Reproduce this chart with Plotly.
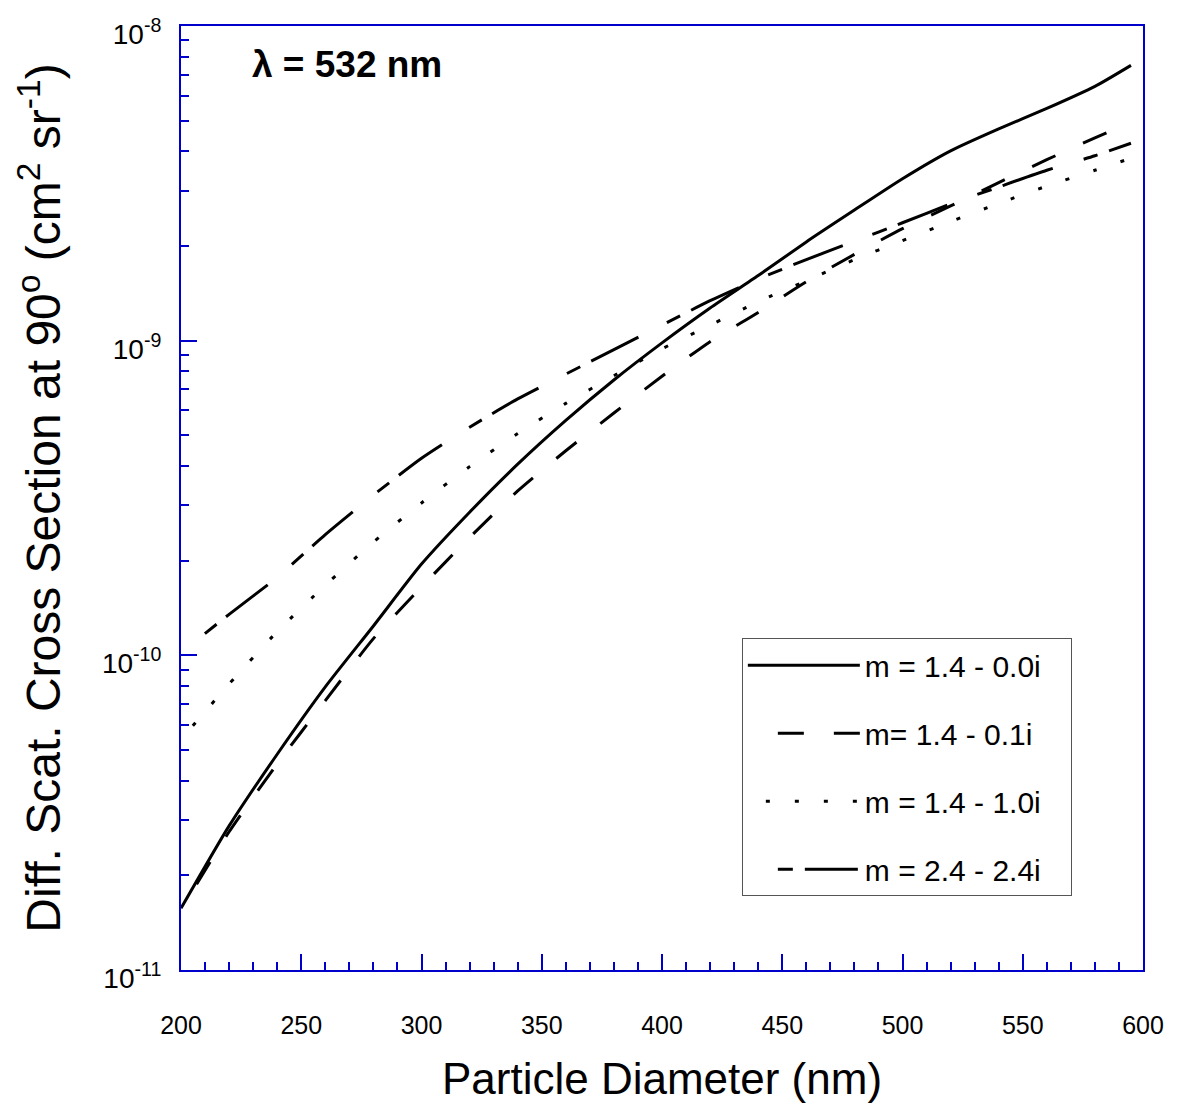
import plotly.graph_objects as go

# particle diameter (nm)
diameter = [200, 220, 240, 260, 280, 300, 320, 340, 360, 380, 400,
            420, 440, 460, 480, 500, 520, 540, 560, 580, 595]

# differential scattering cross section at 90 deg (cm^2 sr^-1)
m14_00i = [1.57e-11, 2.87e-11, 4.85e-11, 7.94e-11, 1.24e-10, 1.95e-10, 2.85e-10,
           4.05e-10, 5.58e-10, 7.50e-10, 9.84e-10, 1.27e-9, 1.61e-9, 2.06e-9,
           2.60e-9, 3.27e-9, 4.01e-9, 4.71e-9, 5.47e-9, 6.43e-9, 7.50e-9]
m14_01i = [1.55e-11, 2.75e-11, 4.52e-11, 7.18e-11, 1.13e-10, 1.65e-10, 2.37e-10,
           3.33e-10, 4.47e-10, 5.89e-10, 7.71e-10, 9.93e-10, 1.23e-9, 1.54e-9,
           1.88e-9, 2.27e-9, 2.68e-9, 3.18e-9, 3.76e-9, 4.41e-9, 4.95e-9]
m14_10i = [5.40e-11, 8.11e-11, 1.19e-10, 1.67e-10, 2.29e-10, 3.05e-10, 3.98e-10,
           5.07e-10, 6.32e-10, 7.74e-10, 9.42e-10, 1.12e-9, 1.33e-9, 1.55e-9,
           1.81e-9, 2.08e-9, 2.39e-9, 2.73e-9, 3.10e-9, 3.48e-9, 3.80e-9]
m24_24i = [1.02e-10, 1.35e-10, 1.77e-10, 2.42e-10, 3.23e-10, 4.23e-10, 5.31e-10,
           6.53e-10, 7.83e-10, 9.37e-10, 1.12e-9, 1.34e-9, 1.57e-9, 1.81e-9,
           2.07e-9, 2.37e-9, 2.72e-9, 3.08e-9, 3.48e-9, 3.87e-9, 4.24e-9]

series_names = ["m = 1.4 - 0.0i", "m= 1.4 - 0.1i", "m = 1.4 - 1.0i", "m = 2.4 - 2.4i"]
series_vals = [m14_00i, m14_01i, m14_10i, m24_24i]
# patterns start with a gap so the legend samples end next to the text
series_dash = ["solid", "0px,30px,26px,0px", "0px,18px,4px,7px", "0px,30px,15px,12px,53px,2px"]

y_tickvals = [1e-11, 1e-10, 1e-9, 1e-8]
y_ticktext = ["10<sup>-11</sup>", "10<sup>-10</sup>", "10<sup>-9</sup>", "10<sup>-8</sup>"]

BLUE = "#0000CC"
FONT = "Liberation Sans, Arial, Helvetica, sans-serif"
NB = "\u00a0"

fig = go.Figure()
for i, (name, vals, dash) in enumerate(zip(series_names, series_vals, series_dash)):
    fig.add_trace(go.Scatter(
        x=diameter, y=vals, name=name + NB * 3, mode="lines",
        line=dict(color="black", width=3, dash=dash, shape="spline", smoothing=0.6),
        legendgroup=f"g{i}",
    ))

# page body keeps an 8px margin, so the figure is a little smaller than the window
fig.update_layout(
    width=1163, height=1095,
    margin=dict(l=173, r=28, t=6, b=133),
    plot_bgcolor="white", paper_bgcolor="white",
    font=dict(family=FONT, color="black"),
    showlegend=True,
    legend=dict(
        x=0.583, y=0.3515, xanchor="left", yanchor="top",
        bgcolor="white", bordercolor="#555555", borderwidth=1,
        font=dict(size=30), tracegroupgap=26, itemwidth=112,
    ),
    annotations=[dict(
        text="<b>λ = 532 nm</b>", xref="paper", yref="paper",
        x=0.0717, y=0.959, xanchor="left", yanchor="middle",
        showarrow=False, font=dict(size=37, family=FONT),
    )],
)

fig.update_xaxes(
    range=[200, 600], tick0=200, dtick=50,
    ticks="inside", ticklen=16, tickwidth=2, tickcolor=BLUE,
    minor=dict(dtick=10, ticks="inside", ticklen=8, tickwidth=2, tickcolor=BLUE),
    showline=True, linecolor=BLUE, linewidth=2, mirror=True,
    showgrid=False, zeroline=False,
    tickfont=dict(size=25), ticklabelstandoff=32,
    title=dict(text="Particle Diameter (nm)", font=dict(size=44), standoff=25),
)

fig.update_yaxes(
    type="log", range=[-11, -7.9999],
    tickmode="array", tickvals=y_tickvals, ticktext=y_ticktext,
    ticks="inside", ticklen=16, tickwidth=2, tickcolor=BLUE,
    minor=dict(dtick="D1", ticks="inside", ticklen=8, tickwidth=2, tickcolor=BLUE),
    showline=True, linecolor=BLUE, linewidth=2, mirror=True,
    showgrid=False, zeroline=False,
    tickfont=dict(size=28), ticklabelstandoff=12, ticklabelshift=8,
    ticklabeloverflow="allow",
    title=dict(text="Diff. Scat. Cross Section at 90<sup>o</sup> (cm<sup>2</sup> sr<sup>-1</sup>)" + NB * 2,
               font=dict(size=48), standoff=26),
)

fig.write_html("out.html")
